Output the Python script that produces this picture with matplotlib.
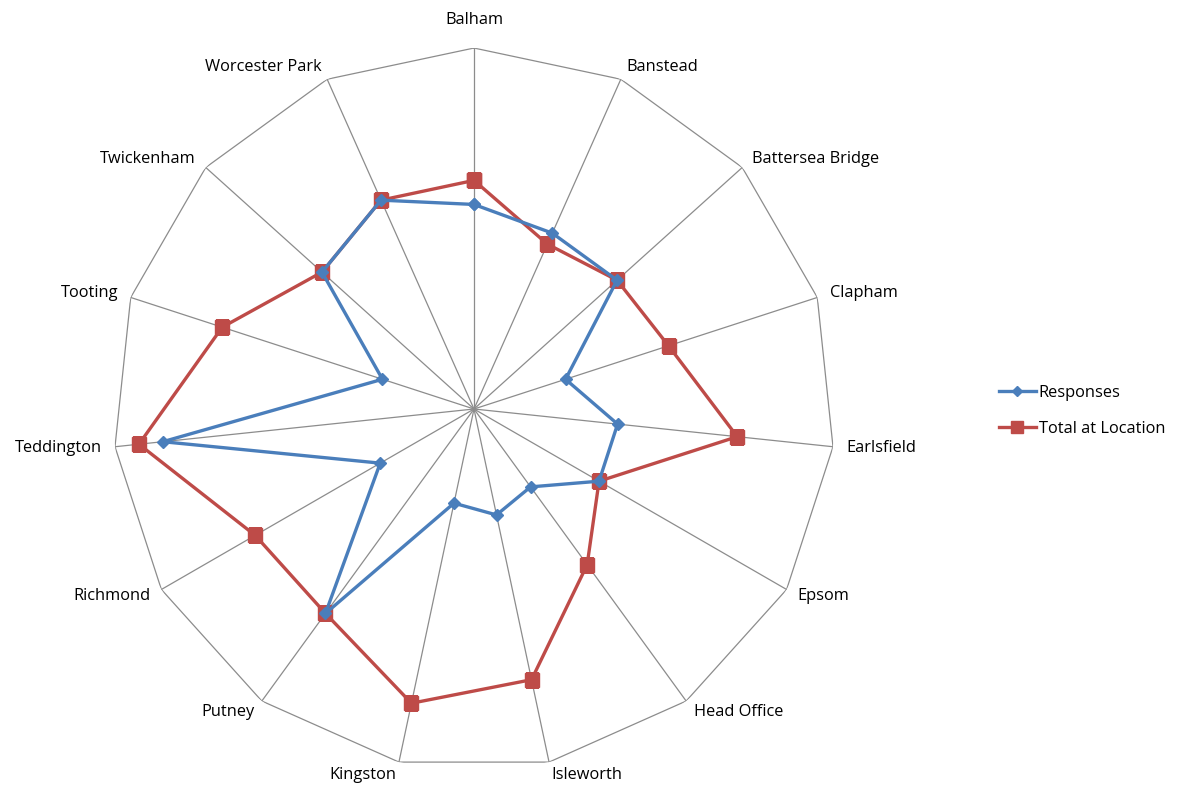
"""
Radar chart: survey responses vs. total staff at each location.
"""

import numpy as np
import matplotlib.pyplot as plt

locations = ['Balham', 'Banstead', 'Battersea Bridge', 'Clapham', 'Earlsfield',
             'Epsom', 'Head Office', 'Isleworth', 'Kingston', 'Putney',
             'Richmond', 'Teddington', 'Tooting', 'Twickenham', 'Worcester Park']
responses = [17, 16, 16, 8, 12, 12, 8, 9, 8, 21, 9, 26, 8, 17, 19]
total_at_location = [19, 15, 16, 17, 22, 12, 16, 23, 25, 21, 21, 28, 22, 17, 19]
r_max = 30

blue = '#4A7EBB'
red = '#BE4B48'
grid_col = '#8C8C8C'

plt.rcParams['font.family'] = ['Open Sans', 'DejaVu Sans']

n = len(locations)
angles = np.arange(n) * 2 * np.pi / n

fig = plt.figure(figsize=(11.81, 7.87), dpi=100)
ax = fig.add_axes([0.0957, 0.0216, 0.6113, 0.9174], projection='polar')
ax.set_theta_zero_location('N')
ax.set_theta_direction(-1)
ax.set_ylim(0, r_max)
ax.grid(False)
ax.spines['polar'].set_visible(False)
ax.set_xticks([])
ax.set_yticks([])
ax.patch.set_visible(False)

# spokes and polygon frame
for a in angles:
    ax.plot([a, a], [0, r_max], color=grid_col, lw=0.9, zorder=1)
ring = np.append(angles, angles[0])
ax.plot(ring, [r_max] * (n + 1), color=grid_col, lw=0.9, zorder=1)

# category labels just outside each vertex
for a, name in zip(angles, locations):
    s, c = np.sin(a), np.cos(a)
    if abs(s) < 0.05:
        ha = 'center'
        va = 'bottom' if c > 0 else 'top'
        off = (0, 20 if c > 0 else -14)
    else:
        ha = 'left' if s > 0 else 'right'
        va = 'center'
        off = (13 * s, 13 * c)
    ax.annotate(name, xy=(a, r_max), xytext=off, textcoords='offset pixels',
                ha=ha, va=va, fontsize=11.8, color='black', annotation_clip=False)

resp_closed = responses + responses[:1]
tot_closed = total_at_location + total_at_location[:1]
ax.plot(ring, resp_closed, color=blue, lw=2.4, marker='D', markersize=6.5,
        label='Responses', zorder=3)
ax.plot(ring, tot_closed, color=red, lw=2.4, marker='s', markersize=9.5,
        label='Total at Location', zorder=2)

handles, labels = ax.get_legend_handles_labels()
fig.legend(handles, labels, loc='center left', bbox_to_anchor=(0.833, 0.478),
           frameon=False, fontsize=11.8, handlelength=2.3, handletextpad=0.15,
           labelspacing=1.25, markerscale=0.85)

fig.savefig('out.png', dpi=100)
